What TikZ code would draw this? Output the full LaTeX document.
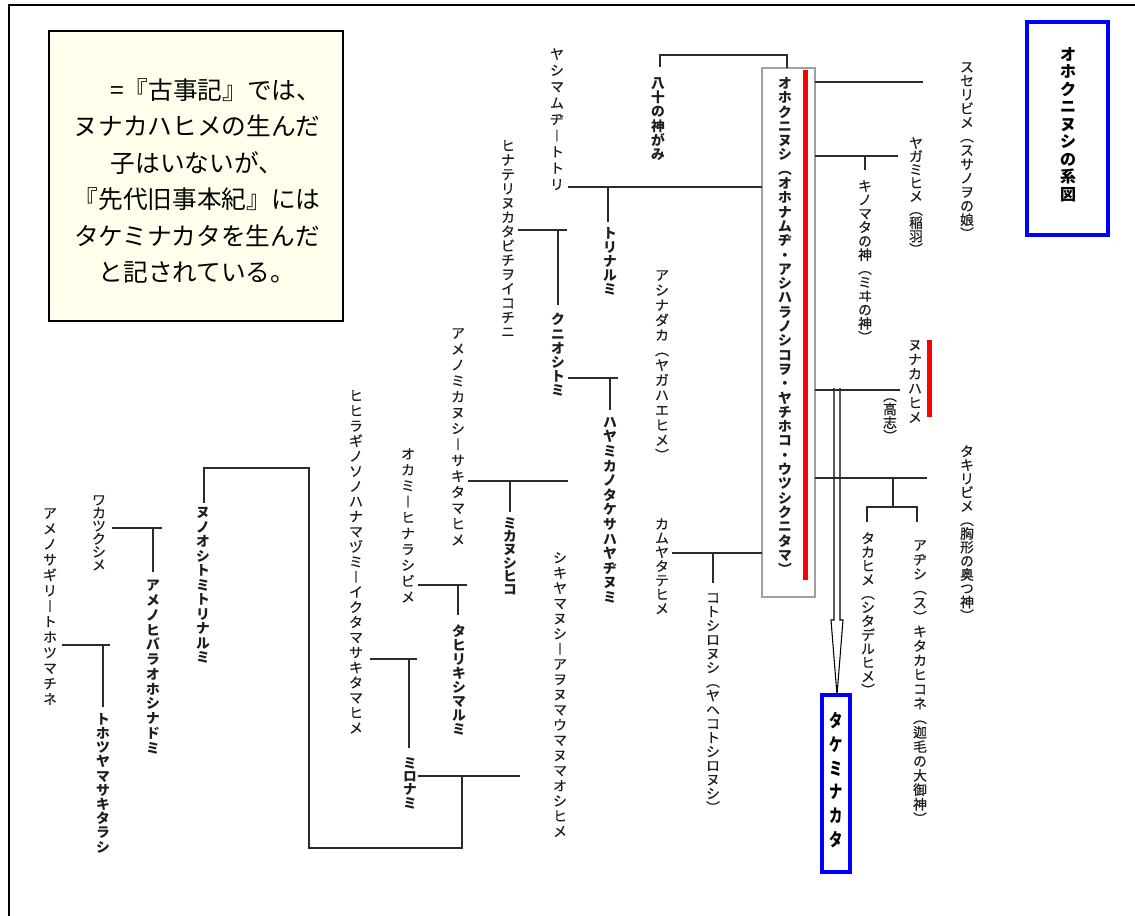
\documentclass[tikz,border=0pt]{standalone}
\usepackage{fontspec}
\usepackage{graphicx}
\setmainfont{Noto Sans CJK JP}
\newfontfamily\jpmed{Noto Sans CJK JP}[FakeBold=0.7]
\usetikzlibrary{positioning}
\definecolor{txt}{HTML}{1E1E1E}
\definecolor{linec}{HTML}{2B2B2B}
\definecolor{boxgray}{HTML}{A0A0A0}
\definecolor{notefill}{HTML}{FFFFEC}
\definecolor{myred}{HTML}{FF0000}
\definecolor{myblue}{HTML}{0000FF}
\newcommand\vtwrap[1]{#1}
\newcommand\vtstretch[1]{\scalebox{1}[1.35]{#1}}
\ExplSyntaxOn
\NewDocumentCommand \VT { O{14.3} m }
  {
    \vbox:n
      {
        \baselineskip = \dimexpr #1 pt * 3 / 4 \relax
        \lineskiplimit = -\maxdimen
        \tl_map_inline:nn {#2} { \hbox_to_wd:nn { 1em } { \hss \vtwrap {##1} \hss } }
      }
  }
\ExplSyntaxOff
\tikzset{
  vt/.style={inner sep=0pt, anchor=north, text=txt, font=\jpmed\fontsize{10.3}{11}\selectfont},
  vtb/.style={vt, font=\fontsize{10.3}{11}\selectfont\bfseries},
  ln/.style={line width=1.3pt, draw=linec},
  bluebox/.style={draw=myblue, line width=3pt, inner sep=0pt},
  redmark/.style={draw=myred, line width=3.75pt},
}
\begin{document}
\begin{tikzpicture}[x=0.75pt,y=-0.75pt]
\useasboundingbox (0,0) rectangle (1135,916);
% outer frame
\draw[line width=1.5pt] (9,916) -- (9,5) -- (1135,5);

% note box
\node[draw=black, line width=1.3pt, fill=notefill, minimum width=220.5pt, minimum height=217.5pt, inner sep=0pt] (notebox) at (196,176) {};
\node[align=center, font=\fontsize{18.5}{27.3}\selectfont, text=black, inner sep=0pt] (note) at (197,181)
  {\hspace{28pt}=『古事記』では、\\ヌナカハヒメの生んだ\\子はいないが、\\『先代旧事本紀』には\\タケミナカタを生んだ\\と記されている。};

% title
\node[bluebox, minimum width=60.75pt, minimum height=159.75pt] (titlebox) at (1067.5,128.5) {};
\node[vtb, text=black, font=\fontsize{12}{13}\selectfont\bfseries] (title) at (1068,47) {\VT[17.5]{オホクニヌシの系図}};

% main box
\node[draw=boxgray, line width=1.3pt, minimum width=39.75pt, minimum height=396.75pt, inner sep=0pt] (okbox) at (788.5,332.5) {};
\node[vtb] (okuni) at (785,77) {\VT[14.3]{オホクニヌシ︵オホナムヂ・アシハラノシコヲ・ヤチホコ・ウツシクニタマ︶}};

% hollow arrow (drawn first so lines pass over)
\draw[line width=0.8pt, fill=white] (834,388) -- (834,620) -- (831,620) -- (837,695) -- (843,620) -- (840,620) -- (840,388);

% names
\node[vtb] (yaso) at (658,77) {\VT[14.3]{八十の神がみ}};
\node[vt] (yashima) at (557,48) {\VT[16.3]{ヤシマムヂ︱トトリ}};
\node[vt] (hinateri) at (508,140) {\VT[14.3]{ヒナテリヌカタビチヲイコチニ}};
\node[vtb] (torinarumi) at (610,227) {\VT[14]{トリナルミ}};
\node[vtb] (kunioshitomi) at (558,313) {\VT[14.2]{クニオシトミ}};
\node[vt] (ashinadaka) at (662,270) {\VT[15]{アシナダカ︵ヤガハエヒメ︶}};
\node[vtb] (hayamika) at (610,417) {\VT[14.6]{ハヤミカノタケサハヤヂヌミ}};
\node[vt] (amenomika) at (458,328) {\VT[15.9]{アメノミカヌシ︱サキタマヒメ}};
\node[vtb] (mikanushi) at (510,517) {\VT[13.3]{ミカヌシヒコ}};
\node[vt] (okami) at (408,448) {\VT[15.9]{オカミ︱ヒナラシビメ}};
\node[vt] (hihiragi) at (356,390) {\VT[15.1]{ヒヒラギノソノハナマヅミ︱イクタマサキタマヒメ}};
\node[vt] (shikiyama) at (560,552) {\VT[15.2]{シキヤマヌシ︱アヲヌマウマヌマオシヒメ}};
\node[vt] (kamuya) at (662,518) {\VT[14.1]{カムヤタテヒメ}};
\node[vt] (kotoshiro) at (713,593) {\VT[14]{コトシロヌシ︵ヤヘコトシロヌシ︶}};
\node[vt] (takahime) at (868,532) {\VT[13.8]{タカヒメ︵シタデルヒメ︶}};
\node[vt] (suseri) at (967,62) {\VT[13.9]{スセリビメ︵スサノヲの娘︶}};
\node[vt] (yagami) at (916,137) {\VT[13.3]{ヤガミヒメ︵稲羽︶}};
\node[vt] (kinomata) at (865,180) {\VT[13.75]{キノマタの神︵ミヰの神︶}};
\node[vt] (nunaka) at (915,340) {\VT[14.5]{ヌナカハヒメ}};
\node[vt] (koshi) at (890,398) {\VT[13.5]{︵高志︶}};
\node[vt] (takiri) at (967,445) {\VT[13.7]{タキリビメ︵胸形の奥つ神︶}};
\node[vt] (ajishiki) at (920,540) {\VT[14.4]{アヂシ︵ス︶キタカヒコネ︵迦毛の大御神︶}};
\node[vtb] (mironami) at (410,757) {\VT[13.3]{ミロナミ}};
\node[vtb] (tahiriki) at (459,625) {\VT[14]{タヒリキシマルミ}};
\node[vtb] (nunooshi) at (203,507) {\VT[14.5]{ヌノオシトミトリナルミ}};
\node[vt] (wakatsu) at (99,495) {\VT[13]{ワカツクシメ}};
\node[vt] (amenosagiri) at (50,508) {\VT[15.5]{アメノサギリ︱トホツマチネ}};
\node[vtb] (amenohibara) at (153,580) {\VT[14.75]{アメノヒバラオホシナドミ}};
\node[vtb] (tohotsuyama) at (103,713) {\VT[14.2]{トホツヤマサキタラシ}};

% Takeminakata
\node[bluebox, minimum width=21pt, minimum height=132.75pt] (takebox) at (836,783.5) {};
\node[vtb, text=black, font=\fontsize{10}{11}\selectfont\bfseries] (takeminakata) at (836,712)
  {\let\vtwrap\vtstretch\VT[23.8]{タケミナカタ}};

% red marks
\draw[redmark] (805,70) -- (805,580);
\draw[redmark] (929,340) -- (929,417);

% tree lines
\draw[ln] (660,67) |- (787,55) -- (787,68);
\draw[ln] (568,187) -- (762,187);
\draw[ln] (608,187) -- (608,222);
\draw[ln] (518,230) -- (567,230);
\draw[ln] (558,230) -- (558,305);
\draw[ln] (568,378) -- (618,378);
\draw[ln] (610,378) -- (610,410);
\draw[ln] (468,481) -- (568,481);
\draw[ln] (510,481) -- (510,512);
\draw[ln] (418,585) -- (467,585);
\draw[ln] (458,585) -- (458,615);
\draw[ln] (370,659) -- (417,659);
\draw[ln] (409,659) -- (409,748);
\draw[ln] (418,776) -- (520,776);
\draw[ln] (462,776) -- (462,848) -- (309,848) -- (309,468) -- (204,468) -- (204,503);
\draw[ln] (112,528) -- (162,528);
\draw[ln] (153,528) -- (153,572);
\draw[ln] (62,645) -- (110,645);
\draw[ln] (103,645) -- (103,707);
\draw[ln] (815,82) -- (923,82);
\draw[ln] (815,156) -- (898,156);
\draw[ln] (865,156) -- (865,170);
\draw[ln] (815,390) -- (900,390);
\draw[ln] (815,478) -- (927,478);
\draw[ln] (893,478) -- (893,507);
\draw[ln] (867,522) |- (917,507) -- (917,522);
\draw[ln] (672,553) -- (762,553);
\draw[ln] (713,553) -- (713,583);
\end{tikzpicture}
\end{document}
